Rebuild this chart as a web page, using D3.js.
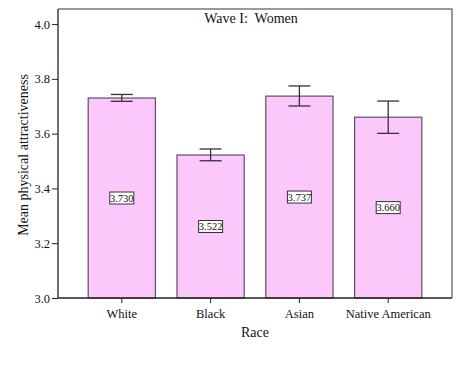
<!DOCTYPE html>
<html>
<head>
<meta charset="utf-8">
<script src="https://cdn.jsdelivr.net/npm/d3@7"></script>
<style>
  body { margin: 0; background: #fff; }
  svg { display: block; font-family: "Liberation Serif", "DejaVu Serif", serif; }
</style>
</head>
<body>
<svg id="chart"></svg>
<script>
const categories = ['White', 'Black', 'Asian', 'Native American'];
const means = [3.730, 3.522, 3.737, 3.660];
const errLow = [3.718, 3.501, 3.701, 3.601];
const errHigh = [3.743, 3.544, 3.774, 3.719];
const yTicks = [3.0, 3.2, 3.4, 3.6, 3.8, 4.0];

const width = 460,
  height = 368;
const frame = { left: 58, right: 452, top: 9, bottom: 298 };

const svg = d3.select('#chart').attr('width', width).attr('height', height);

const x = d3
  .scaleBand()
  .domain(categories)
  .range([frame.left, frame.right])
  .paddingInner(0.243)
  .paddingOuter(0.34);

const y = d3.scaleLinear().domain([3.0, 4.055]).range([frame.bottom, frame.top]);

const data = categories.map((c, i) => ({ cat: c, mean: means[i], lo: errLow[i], hi: errHigh[i] }));

// frame (top + right in grey)
svg
  .append('path')
  .attr('d', `M${frame.left},${frame.top}H${frame.right}V${frame.bottom}`)
  .attr('fill', 'none')
  .attr('stroke', '#7a7a7a')
  .attr('stroke-width', 1.5);

// bars
svg
  .selectAll('rect.bar')
  .data(data)
  .enter()
  .append('rect')
  .attr('class', 'bar')
  .attr('x', d => x(d.cat))
  .attr('y', d => y(d.mean))
  .attr('width', x.bandwidth())
  .attr('height', d => y(3.0) - y(d.mean))
  .attr('fill', '#fcc8fc')
  .attr('stroke', '#5e4f61')
  .attr('stroke-width', 1.2);

// error bars
const capW = 22;
const err = svg.selectAll('g.err').data(data).enter().append('g').attr('class', 'err');
err
  .append('line')
  .attr('x1', d => x(d.cat) + x.bandwidth() / 2)
  .attr('x2', d => x(d.cat) + x.bandwidth() / 2)
  .attr('y1', d => y(d.lo))
  .attr('y2', d => y(d.hi));
['lo', 'hi'].forEach(k => {
  err
    .append('line')
    .attr('x1', d => x(d.cat) + x.bandwidth() / 2 - capW / 2)
    .attr('x2', d => x(d.cat) + x.bandwidth() / 2 + capW / 2)
    .attr('y1', d => y(d[k]))
    .attr('y2', d => y(d[k]));
});
err.selectAll('line').attr('stroke', '#3a2f3c').attr('stroke-width', 1.3);

// value labels in the middle of each bar
const lab = svg.selectAll('g.lab').data(data).enter().append('g').attr('class', 'lab')
  .attr('transform', d => `translate(${x(d.cat) + x.bandwidth() / 2},${(y(d.mean) + y(3.0)) / 2})`);
lab
  .append('rect')
  .attr('x', -12)
  .attr('y', -6)
  .attr('width', 24)
  .attr('height', 12)
  .attr('fill', '#fff')
  .attr('stroke', '#333')
  .attr('stroke-width', 1);
lab
  .append('text')
  .attr('text-anchor', 'middle')
  .attr('dy', '0.35em')
  .attr('font-size', 10.5)
  .attr('fill', '#111')
  .text(d => d.mean.toFixed(3));

// axes
const yAxis = svg
  .append('g')
  .attr('transform', `translate(${frame.left},0)`)
  .call(d3.axisLeft(y).tickValues(yTicks).tickFormat(d3.format('.1f')).tickSize(6).tickPadding(2));
yAxis.select('.domain').attr('d', `M0,${frame.top}V${frame.bottom}`).attr('stroke', '#222').attr('stroke-width', 1.3);

const xAxis = svg
  .append('g')
  .attr('transform', `translate(0,${frame.bottom})`)
  .call(d3.axisBottom(x).tickSize(5).tickPadding(6));
xAxis.select('.domain').attr('d', `M${frame.left},0H${frame.right}`).attr('stroke', '#222').attr('stroke-width', 1.3);

svg.selectAll('.tick line').attr('stroke', '#222');
svg.selectAll('.tick text').attr('font-family', '"Liberation Serif", serif').attr('font-size', 12.5).attr('fill', '#111');

// titles
svg
  .append('text')
  .attr('x', 251)
  .attr('y', 23)
  .attr('text-anchor', 'middle')
  .attr('font-size', 14)
  .attr('fill', '#111')
  .attr('xml:space', 'preserve')
  .style('white-space', 'pre')
  .text('Wave I:  Women');

svg
  .append('text')
  .attr('x', (frame.left + frame.right) / 2)
  .attr('y', 337)
  .attr('text-anchor', 'middle')
  .attr('font-size', 14)
  .attr('fill', '#111')
  .text('Race');

svg
  .append('text')
  .attr('transform', 'translate(28,155) rotate(-90)')
  .attr('text-anchor', 'middle')
  .attr('font-size', 14)
  .attr('fill', '#111')
  .text('Mean physical attractiveness');
</script>
</body>
</html>
